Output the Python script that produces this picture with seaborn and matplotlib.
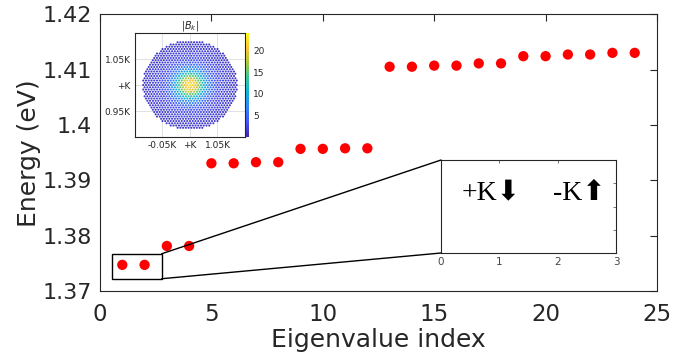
import matplotlib as mpl
import numpy as np
import pandas as pd
import matplotlib.pyplot as plt
import seaborn as sns
from matplotlib.colors import LinearSegmentedColormap, Normalize
from matplotlib.patches import Rectangle, ConnectionPatch

# ----- main data: energies -----
eig_index = list(range(1, 25))
energy = [1.3748, 1.3748, 1.3782, 1.3782, 1.3931, 1.3931, 1.3933, 1.3933,
          1.3957, 1.3957, 1.3958, 1.3958, 1.4105, 1.4105, 1.4107, 1.4107,
          1.4111, 1.4111, 1.4124, 1.4124, 1.4127, 1.4127, 1.4130, 1.4130]
y_ticks = [1.37, 1.38, 1.39, 1.40, 1.41, 1.42]
y_tick_labels = ['1.37', '1.38', '1.39', '1.4', '1.41', '1.42']
x_ticks = [0, 5, 10, 15, 20, 25]

# ----- inset |B_k|: radial profile -----
bk_radius = [0.0, 0.15, 0.30, 0.45, 0.60, 0.75, 0.95, 1.30, 1.75]
bk_value = [23.5, 21.0, 17.0, 12.0, 8.0, 5.5, 3.5, 2.2, 1.5]
inset_ticks = [-1, 0, 1]
inset_xlabels = ['-0.05K', '+K', '1.05K']
inset_ylabels = ['0.95K', '+K', '1.05K']
cbar_ticks = [5, 10, 15, 20]

# ----- zoom inset -----
zoom_ticks = [0, 1, 2, 3]
zoom_box = (0.55, 1.3723, 2.77, 1.3768)  # x0, y0, x1, y1

parula = LinearSegmentedColormap.from_list('parula', [
    (0.2422, 0.1504, 0.6603), (0.2810, 0.3228, 0.9579), (0.1786, 0.5289, 0.9682),
    (0.0689, 0.6948, 0.8394), (0.2161, 0.7843, 0.5923), (0.6720, 0.7793, 0.2227),
    (0.9970, 0.7659, 0.2199), (0.9769, 0.9839, 0.0805)])

sns.set_theme(style='white')
plt.rcParams['font.family'] = ['DejaVu Sans']
dark = '#262626'

fig = plt.figure(figsize=(6.95, 3.6), dpi=100)
ax = fig.add_axes([0.1439, 0.1903, 0.8014, 0.7708])

df = pd.DataFrame({'idx': eig_index, 'E': energy})
sns.scatterplot(data=df, x='idx', y='E', color='red', s=55, edgecolor='none', ax=ax, zorder=3)
ax.set_xlim(0, 25)
ax.set_ylim(1.37, 1.42)
ax.set_xticks(x_ticks)
ax.set_yticks(y_ticks)
ax.set_yticklabels(y_tick_labels)
ax.tick_params(direction='in', top=True, right=True, length=5, width=0.8,
               labelsize=16, colors=dark, pad=6)
ax.tick_params(axis='x', labelsize=16.5, pad=8)
for s in ax.spines.values():
    s.set_color(dark)
    s.set_linewidth(0.8)
ax.set_xlabel('Eigenvalue index', fontsize=18, color=dark, labelpad=2)
ax.set_ylabel('Energy (eV)', fontsize=18, color=dark, labelpad=1)

# zoom rectangle
x0, y0, x1, y1 = zoom_box
ax.add_patch(Rectangle((x0, y0), x1 - x0, y1 - y0, fill=False, ec='black', lw=1, zorder=4))

# ----- |B_k| inset -----
ax1 = fig.add_axes([0.1942, 0.6194, 0.1583, 0.2889])
a = 0.1
pts = []
for j in range(-25, 26):
    for i in range(-25, 26):
        px = a * (i + 0.5 * (j % 2))
        py = a * np.sqrt(3) / 2 * j
        if px ** 2 + py ** 2 <= 1.72 ** 2:
            pts.append((px, py))
pts = np.array(pts)
rr = np.hypot(pts[:, 0], pts[:, 1])
disc = pd.DataFrame({'kx': pts[:, 0], 'ky': pts[:, 1], 'B': np.interp(rr, bk_radius, bk_value)})
sns.scatterplot(data=disc, x='kx', y='ky', hue='B', palette=parula, hue_norm=(0, 24),
                s=2.2, edgecolor='none', legend=False, ax=ax1)
ax1.set_xlim(-2, 2)
ax1.set_ylim(-2, 2)
ax1.set_xticks(inset_ticks)
ax1.set_xticklabels(inset_xlabels)
ax1.set_yticks(inset_ticks)
ax1.set_yticklabels(inset_ylabels)
ax1.grid(True, color='#dddddd', lw=0.6)
ax1.set_axisbelow(True)
ax1.tick_params(direction='in', length=0, labelsize=6.5, colors=dark, pad=3)
ax1.set_xlabel('')
ax1.set_ylabel('')
for s in ax1.spines.values():
    s.set_color(dark)
    s.set_linewidth(0.8)
ax1.set_title(r'$|B_k|$', fontsize=7, pad=3, color=dark)

cax = fig.add_axes([0.3540, 0.6194, 0.0045, 0.2889])
sm = mpl.cm.ScalarMappable(norm=Normalize(0, 24), cmap=parula)
cb = fig.colorbar(sm, cax=cax, ticks=cbar_ticks)
cb.outline.set_visible(False)
cax.tick_params(length=0, labelsize=6.5, colors=dark, pad=3)

# ----- zoom inset -----
ax2 = fig.add_axes([0.6345, 0.2972, 0.2518, 0.2583])
ax2.set_xlim(0, 3)
ax2.set_ylim(0, 1)
ax2.set_xticks(zoom_ticks)
ax2.set_yticks([0.25, 0.5, 0.75])
ax2.set_yticklabels([])
ax2.tick_params(direction='in', top=True, right=True, length=2, width=0.5,
                labelsize=7.5, colors='#444444', pad=3)
for s in ax2.spines.values():
    s.set_color(dark)
    s.set_linewidth(0.8)
fam = ['Liberation Serif', 'DejaVu Sans']
ax2.text(0.36, 0.57, '+K\u2B07', family=fam, fontsize=20, color='black', va='baseline')
ax2.text(1.92, 0.57, '-K\u2B06', family=fam, fontsize=20, color='black', va='baseline')

for ya, yb in [(y1, 1), (y0, 0)]:
    con = ConnectionPatch(xyA=(x1, ya), coordsA=ax.transData, xyB=(0, yb),
                          coordsB=ax2.transAxes, color='black', lw=1)
    fig.add_artist(con)

fig.savefig('out.png', dpi=100)
